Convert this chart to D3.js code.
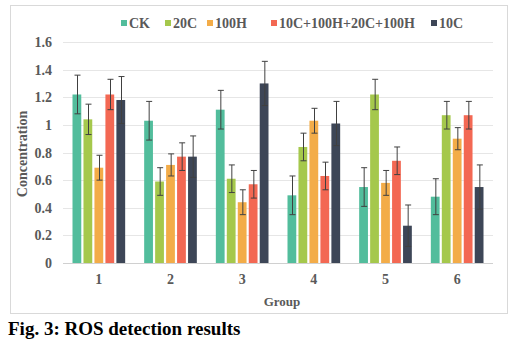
<!DOCTYPE html>
<html>
<head>
<meta charset="utf-8">
<script src="https://cdn.jsdelivr.net/npm/d3@7"></script>
<style>
  body { margin: 0; background: #fff; }
  text { font-family: "Liberation Serif", "Times New Roman", serif; font-weight: bold; }
</style>
</head>
<body>
<div id="chart"></div>
<script>
  // data
  var groups = ["1", "2", "3", "4", "5", "6"];
  var series = ["CK", "20C", "100H", "10C+100H+20C+100H", "10C"];
  var colors = ["#52bd9c", "#a5c84c", "#f3ac48", "#f36853", "#3d4657"];
  var ck = [1.22, 1.03, 1.11, 0.49, 0.55, 0.48];
  var c20 = [1.04, 0.59, 0.61, 0.84, 1.22, 1.07];
  var h100 = [0.69, 0.71, 0.44, 1.03, 0.58, 0.90];
  var mix = [1.22, 0.77, 0.57, 0.63, 0.74, 1.07];
  var c10 = [1.18, 0.77, 1.30, 1.01, 0.27, 0.55];
  var ckErr = [0.14, 0.14, 0.14, 0.14, 0.14, 0.13];
  var c20Err = [0.11, 0.10, 0.10, 0.10, 0.11, 0.10];
  var h100Err = [0.09, 0.08, 0.09, 0.09, 0.09, 0.08];
  var mixErr = [0.11, 0.10, 0.10, 0.10, 0.10, 0.10];
  var c10Err = [0.17, 0.15, 0.16, 0.16, 0.15, 0.16];
  var yTicks = [0, 0.2, 0.4, 0.6, 0.8, 1, 1.2, 1.4, 1.6];

  var values = [ck, c20, h100, mix, c10];
  var errs = [ckErr, c20Err, h100Err, mixErr, c10Err];

  var W = 519, H = 348;
  var margin = { top: 42, left: 63, right: 26, bottom: 85 };

  var svg = d3.select("#chart").append("svg")
    .attr("width", W).attr("height", H);

  // chart frame
  svg.append("rect")
    .attr("x", 10.5).attr("y", 5.5)
    .attr("width", 497).attr("height", 308)
    .attr("fill", "none").attr("stroke", "#d9d9d9");

  var x0 = d3.scaleBand().domain(groups).range([63, 493]);
  var x1 = d3.scaleBand().domain(series)
    .range([9.5, x0.bandwidth() - 9.5]).paddingInner(0.2);
  var y = d3.scaleLinear().domain([0, 1.6]).range([263, 42]);

  // gridlines
  svg.append("g").selectAll("line")
    .data(yTicks.slice(1))
    .enter().append("line")
    .attr("x1", 63).attr("x2", 493)
    .attr("y1", function(d) { return Math.round(y(d)) + 0.5; })
    .attr("y2", function(d) { return Math.round(y(d)) + 0.5; })
    .attr("stroke", "#e6e6e6");

  // y tick labels
  svg.append("g").selectAll("text")
    .data(yTicks)
    .enter().append("text")
    .attr("x", 52).attr("y", function(d) { return y(d) + 5; })
    .attr("text-anchor", "end")
    .attr("font-size", 14).attr("fill", "#595959")
    .text(function(d) { return String(+d.toFixed(1)); });

  // bars
  var g = svg.append("g").selectAll("g")
    .data(groups)
    .enter().append("g")
    .attr("transform", function(d) { return "translate(" + x0(d) + ",0)"; });

  g.selectAll("rect")
    .data(function(d, i) {
      return series.map(function(s, j) { return { s: s, j: j, v: values[j][i], e: errs[j][i] }; });
    })
    .enter().append("rect")
    .attr("x", function(d) { return x1(d.s); })
    .attr("width", x1.bandwidth())
    .attr("y", function(d) { return y(d.v); })
    .attr("height", function(d) { return y(0) - y(d.v); })
    .attr("fill", function(d) { return colors[d.j]; });

  // error bars
  var eb = g.selectAll("g.err")
    .data(function(d, i) {
      return series.map(function(s, j) { return { s: s, v: values[j][i], e: errs[j][i] }; });
    })
    .enter().append("g").attr("class", "err")
    .attr("stroke", "#404040").attr("stroke-width", 1);

  function cx(d) { return Math.round(x1(d.s) + x1.bandwidth() / 2) + 0.5; }
  eb.append("line")
    .attr("x1", cx).attr("x2", cx)
    .attr("y1", function(d) { return y(d.v - d.e); })
    .attr("y2", function(d) { return y(d.v + d.e); });
  eb.append("line")
    .attr("x1", function(d) { return cx(d) - 3; }).attr("x2", function(d) { return cx(d) + 3; })
    .attr("y1", function(d) { return y(d.v + d.e); })
    .attr("y2", function(d) { return y(d.v + d.e); });
  eb.append("line")
    .attr("x1", function(d) { return cx(d) - 3; }).attr("x2", function(d) { return cx(d) + 3; })
    .attr("y1", function(d) { return y(d.v - d.e); })
    .attr("y2", function(d) { return y(d.v - d.e); });

  // baseline
  svg.append("line")
    .attr("x1", 63).attr("x2", 493)
    .attr("y1", 263.5).attr("y2", 263.5)
    .attr("stroke", "#d0d0d0");

  // x tick labels
  svg.append("g").selectAll("text")
    .data(groups)
    .enter().append("text")
    .attr("x", function(d) { return x0(d) + x0.bandwidth() / 2; })
    .attr("y", 284)
    .attr("text-anchor", "middle")
    .attr("font-size", 14).attr("fill", "#595959")
    .text(function(d) { return d; });

  // axis titles
  svg.append("text")
    .attr("x", 282).attr("y", 306)
    .attr("text-anchor", "middle")
    .attr("font-size", 13).attr("fill", "#595959")
    .text("Group");

  svg.append("text")
    .attr("transform", "translate(27,154) rotate(-90)")
    .attr("text-anchor", "middle")
    .attr("font-size", 14).attr("fill", "#595959")
    .text("Concentration");

  // legend
  var legX = [121, 165, 207, 271, 431];
  var leg = svg.append("g").selectAll("g")
    .data(series)
    .enter().append("g")
    .attr("transform", function(d, i) { return "translate(" + legX[i] + ",20)"; });
  leg.append("rect")
    .attr("width", 6).attr("height", 6)
    .attr("fill", function(d, i) { return colors[i]; });
  leg.append("text")
    .attr("x", 8).attr("y", 8)
    .attr("font-size", 14).attr("fill", "#595959")
    .text(function(d) { return d; });

  // caption
  svg.append("text")
    .attr("x", 8).attr("y", 335)
    .attr("font-size", 19).attr("fill", "#000")
    .text("Fig. 3: ROS detection results");
</script>
</body>
</html>
